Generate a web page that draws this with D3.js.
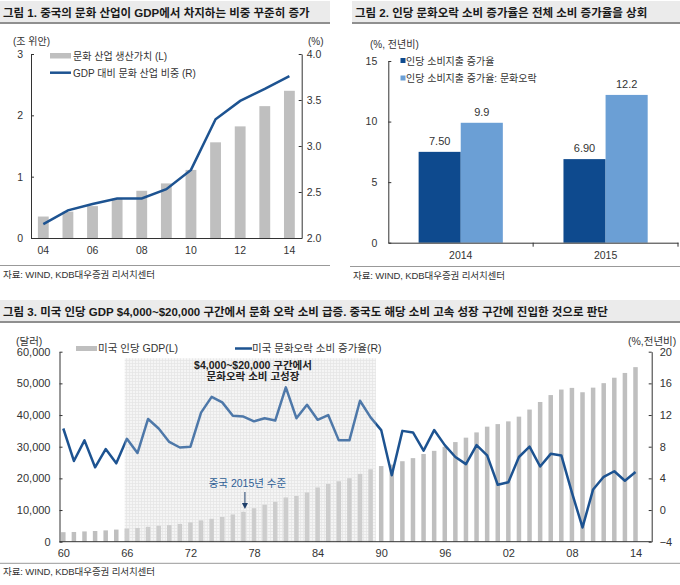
<!DOCTYPE html>
<html><head><meta charset="utf-8">
<script src="https://cdn.jsdelivr.net/npm/d3@7/dist/d3.min.js"></script>
<style>
body{margin:0;background:#fff}
svg{display:block}
text{font-family:"Liberation Sans","Noto Sans CJK KR",sans-serif;fill:#333}
</style>
</head><body>
<svg id="c" width="680" height="585"></svg>
<script>
// ---------- DATA ----------
// Chart 1
const c1Years = ["04","05","06","07","08","09","10","11","12","13","14"];
const c1TickLabels = ["04","06","08","10","12","14"];
const c1Value = [0.35,0.43,0.52,0.64,0.77,0.89,1.11,1.56,1.82,2.15,2.40];
const c1Share = [2.15,2.30,2.37,2.43,2.43,2.53,2.74,3.29,3.49,3.62,3.76];
const c1LeftTicks = [0,1,2,3];
const c1RightTicks = [2.0,2.5,3.0,3.5,4.0];
// Chart 2
const c2Cats = ["2014","2015"];
const c2Total = [7.50,6.90];
const c2Culture = [9.9,12.2];
const c2TotalLabels = ["7.50","6.90"];
const c2CultureLabels = ["9.9","12.2"];
const c2Ticks = [0,5,10,15];
// Chart 3
const c3Years = [1960,1961,1962,1963,1964,1965,1966,1967,1968,1969,1970,1971,1972,1973,1974,1975,1976,1977,1978,1979,
  1980,1981,1982,1983,1984,1985,1986,1987,1988,1989,1990,1991,1992,1993,1994,1995,1996,1997,1998,1999,
  2000,2001,2002,2003,2004,2005,2006,2007,2008,2009,2010,2011,2012,2013,2014];
const c3Gdp = [3007,3067,3244,3375,3574,3828,4146,4336,4696,5032,5234,5609,6094,6726,7226,7801,8592,9453,10565,11674,
  12575,13976,14434,15544,17121,18237,19071,20039,21417,22857,23889,24342,25419,26387,27695,28691,29968,31459,32854,34516,
  36330,37134,37998,39490,41725,44123,46302,48050,48570,47195,48651,50066,51784,53291,55124];
const c3Growth = [10.3,6.2,8.8,5.4,7.7,5.9,9.0,7.2,11.5,10.3,8.6,7.9,8.0,12.3,14.3,13.6,11.9,11.8,11.2,11.6,
  11.3,15.5,11.6,13.3,11.4,12.0,8.8,8.8,13.8,11.7,10.1,4.4,10.0,9.8,7.5,10.1,8.2,6.7,5.8,8.2,
  6.9,3.2,3.5,6.7,8.0,5.5,7.1,6.9,2.2,-2.2,2.6,4.2,4.9,3.7,4.8];
const c3TickYears = [1960,1966,1972,1978,1984,1990,1996,2002,2008,2014];
const c3LeftTicks = [0,10000,20000,30000,40000,50000,60000];
const c3RightTicks = [-4,0,4,8,12,16,20];
const c3Shade = [1965.8,1989.5];
const c3Mark = 1977;

// ---------- STYLE ----------
const GRAY = "#bfbfbf", LINE = "#1d5391", DARK = "#0e4a8e", LIGHT = "#6b9fd5";
const svg = d3.select("#c");

function titleBar(x0, x1, y, txt){
  svg.append("rect").attr("x",x0).attr("y",y).attr("width",x1-x0).attr("height",21).attr("fill","#ebebeb");
  svg.append("line").attr("x1",x0).attr("x2",x1).attr("y1",y+22).attr("y2",y+22).attr("stroke","#8f8f8f").attr("stroke-width",2);
  svg.append("text").attr("x",x0+3).attr("y",y+16).attr("font-size",11.5).attr("font-weight","bold").style("fill","#1a1a1a").attr("letter-spacing",0).text(txt);
}
function source(x0, x1, y){
  svg.append("line").attr("x1",x0).attr("x2",x1).attr("y1",y).attr("y2",y).attr("stroke","#999").attr("stroke-width",1);
  svg.append("text").attr("x",x0+3).attr("y",y+12).attr("font-size",9.5).attr("letter-spacing",-0.1).style("fill","#333").text("자료: WIND, KDB대우증권 리서치센터");
}
function styleAxis(g, fs){
  g.select(".domain").attr("stroke","#333");
  g.selectAll(".tick line").attr("stroke","#333");
  g.selectAll(".tick text").attr("font-size",fs).style("fill","#333").attr("font-family",null);
  g.attr("font-family",null);
}

// ---------- CHART 1 ----------
titleBar(0, 330, 1, "그림 1. 중국의 문화 산업이 GDP에서 차지하는 비중 꾸준히 증가");
{
  const L=31, R=301.7, T=54, B=238;
  const x = d3.scaleBand().domain(c1Years).range([L,R]).paddingInner(0.56).paddingOuter(0.28);
  const yl = d3.scaleLinear().domain([0,3]).range([B,T]);
  const yr = d3.scaleLinear().domain([2,4]).range([B,T]);
  svg.append("g").selectAll("rect").data(c1Value).join("rect")
    .attr("x",(d,i)=>x(c1Years[i])).attr("width",x.bandwidth())
    .attr("y",d=>yl(d)).attr("height",d=>B-yl(d)).attr("fill",GRAY);
  svg.append("path").datum(c1Share).attr("fill","none").attr("stroke",LINE).attr("stroke-width",2.5)
    .attr("d",d3.line().x((d,i)=>x(c1Years[i])+x.bandwidth()/2).y(d=>yr(d)));
  const gl = svg.append("g").attr("transform",`translate(${L},0)`)
    .call(d3.axisLeft(yl).tickValues(c1LeftTicks).tickSizeInner(-3).tickSizeOuter(0).tickPadding(8).tickFormat(d3.format("d")));
  styleAxis(gl,10.5);
  const gr = svg.append("g").attr("transform",`translate(${R},0)`)
    .call(d3.axisRight(yr).tickValues(c1RightTicks).tickSizeInner(-3).tickSizeOuter(0).tickPadding(5).tickFormat(d3.format(".1f")));
  styleAxis(gr,10.5);
  const gb = svg.append("g").attr("transform",`translate(0,${B})`)
    .call(d3.axisBottom(x).tickValues(c1TickLabels).tickSize(0).tickPadding(9));
  styleAxis(gb,10.5);
  svg.append("text").attr("x",13).attr("y",45).attr("font-size",10).text("(조 위안)");
  svg.append("text").attr("x",308).attr("y",45).attr("font-size",10).text("(%)");
  svg.append("rect").attr("x",50).attr("y",53).attr("width",21).attr("height",5.5).attr("fill",GRAY);
  svg.append("text").attr("x",73).attr("y",59.5).attr("font-size",10).text("문화 산업 생산가치 (L)");
  svg.append("line").attr("x1",50).attr("x2",71).attr("y1",72.7).attr("y2",72.7).attr("stroke",LINE).attr("stroke-width",2.5);
  svg.append("text").attr("x",73).attr("y",76.5).attr("font-size",10).text("GDP 대비 문화 산업 비중 (R)");
}
source(0, 330, 265.5);

// ---------- CHART 2 ----------
titleBar(352, 680, 1, "그림 2. 인당 문화오락 소비 증가율은 전체 소비 증가율을 상회");
{
  const L=388.3, R=678, T=61, B=242.7;
  const x = d3.scaleBand().domain(c2Cats).range([L,R]);
  const inner = d3.scaleBand().domain(["t","c"]).range([0,x.bandwidth()]).paddingOuter(0.72).paddingInner(0);
  const y = d3.scaleLinear().domain([0,15]).range([B,T]);
  const g = svg.append("g");
  c2Cats.forEach((c,i)=>{
    g.append("rect").attr("x",x(c)+inner("t")).attr("width",inner.bandwidth()).attr("y",y(c2Total[i])).attr("height",B-y(c2Total[i])).attr("fill",DARK);
    g.append("rect").attr("x",x(c)+inner("c")).attr("width",inner.bandwidth()).attr("y",y(c2Culture[i])).attr("height",B-y(c2Culture[i])).attr("fill",LIGHT);
    g.append("text").attr("x",x(c)+inner("t")+inner.bandwidth()/2).attr("y",y(c2Total[i])-7).attr("text-anchor","middle").attr("font-size",11).text(c2TotalLabels[i]);
    g.append("text").attr("x",x(c)+inner("c")+inner.bandwidth()/2).attr("y",y(c2Culture[i])-7).attr("text-anchor","middle").attr("font-size",11).text(c2CultureLabels[i]);
  });
  const gl = svg.append("g").attr("transform",`translate(${L},0)`)
    .call(d3.axisLeft(y).tickValues(c2Ticks).tickSizeInner(-3).tickSizeOuter(0).tickPadding(11));
  styleAxis(gl,10.5);
  const gb = svg.append("g").attr("transform",`translate(0,${B})`)
    .call(d3.axisBottom(x).tickSize(0).tickPadding(9));
  styleAxis(gb,10.5);
  gb.append("line").attr("x1",x("2015")).attr("x2",x("2015")).attr("y1",0).attr("y2",4).attr("stroke","#333");
  gb.append("line").attr("x1",R).attr("x2",R).attr("y1",0).attr("y2",4).attr("stroke","#333");
  svg.append("text").attr("x",370).attr("y",48).attr("font-size",10).text("(%, 전년비)");
  svg.append("rect").attr("x",400.5).attr("y",58).attr("width",5).attr("height",5).attr("fill",DARK);
  svg.append("text").attr("x",406).attr("y",64.5).attr("font-size",10).text("인당 소비지출 증가율");
  svg.append("rect").attr("x",400.5).attr("y",75.5).attr("width",5).attr("height",5).attr("fill",LIGHT);
  svg.append("text").attr("x",406).attr("y",82).attr("font-size",10).text("인당 소비지출 증가율: 문화오락");
}
source(350, 680, 266.5);

// ---------- CHART 3 ----------
titleBar(0, 680, 300, "그림 3. 미국 인당 GDP $4,000~$20,000 구간에서 문화 오락 소비 급증. 중국도 해당 소비 고속 성장 구간에 진입한 것으로 판단");
{
  const L=59.5, R=651.7, T=351.7, B=541.7;
  const x = d3.scaleLinear().domain([1960,2014]).range([63.3,635.5]);
  const yl = d3.scaleLinear().domain([0,60000]).range([B,T]);
  const yr = d3.scaleLinear().domain([-4,20]).range([B,T]);
  const defs = svg.append("defs");
  const pat = defs.append("pattern").attr("id","grid").attr("patternUnits","userSpaceOnUse").attr("width",3).attr("height",3);
  pat.append("rect").attr("width",3).attr("height",3).attr("fill","#f3f3f3");
  pat.append("path").attr("d","M0,0.5H3M0.5,0V3").attr("stroke","#dcdcdc").attr("stroke-width",0.7);
  const sx0 = x(c3Shade[0]), sx1 = x(c3Shade[1]), sy0 = 358.3;
  svg.append("rect").attr("x",sx0).attr("y",sy0).attr("width",sx1-sx0).attr("height",B-sy0).attr("fill","url(#grid)");
  svg.append("g").selectAll("rect").data(c3Gdp).join("rect")
    .attr("x",(d,i)=>x(c3Years[i])-2.25).attr("width",4.5)
    .attr("y",d=>yl(d)).attr("height",d=>B-yl(d)).attr("fill",GRAY);
  svg.append("path").datum(c3Growth).attr("fill","none").attr("stroke",LINE).attr("stroke-width",2.5).attr("stroke-linejoin","round")
    .attr("d",d3.line().x((d,i)=>x(c3Years[i])).y(d=>yr(d)));
  svg.append("rect").attr("x",sx0).attr("y",sy0).attr("width",sx1-sx0).attr("height",B-sy0-1).attr("fill","#fff").attr("fill-opacity",0.22);
  const gl = svg.append("g").attr("transform",`translate(${L},0)`)
    .call(d3.axisLeft(yl).tickValues(c3LeftTicks).tickSizeInner(-3).tickSizeOuter(0).tickPadding(9).tickFormat(d3.format(",")));
  styleAxis(gl,11);
  const gr = svg.append("g").attr("transform",`translate(${R},0)`)
    .call(d3.axisRight(yr).tickValues(c3RightTicks).tickSizeInner(-3).tickSizeOuter(0).tickPadding(8));
  styleAxis(gr,11);
  const gb = svg.append("g").attr("transform",`translate(0,${B})`)
    .call(d3.axisBottom(x).tickValues(c3TickYears).tickSize(0).tickPadding(8).tickFormat(d=>String(d).slice(2)));
  gb.select(".domain").attr("d",`M${L},0H${R}`);
  styleAxis(gb,11);
  svg.append("text").attr("x",16).attr("y",344.5).attr("font-size",10.5).text("(달러)");
  svg.append("text").attr("x",628).attr("y",344.5).attr("font-size",10.5).text("(%,전년비)");
  svg.append("rect").attr("x",76).attr("y",346).attr("width",21).attr("height",5).attr("fill",GRAY);
  svg.append("text").attr("x",98).attr("y",352).attr("font-size",10.5).text("미국 인당 GDP(L)");
  svg.append("line").attr("x1",235).attr("x2",252).attr("y1",348.5).attr("y2",348.5).attr("stroke",LINE).attr("stroke-width",2.5);
  svg.append("text").attr("x",252).attr("y",352).attr("font-size",10.5).text("미국 문화오락 소비 증가율(R)");
  svg.append("text").attr("x",253).attr("y",369).attr("text-anchor","middle").attr("font-size",10.5).attr("font-weight","bold").style("fill","#222").text("$4,000~$20,000 구간에서");
  svg.append("text").attr("x",253).attr("y",380).attr("text-anchor","middle").attr("font-size",10.5).attr("font-weight","bold").style("fill","#222").text("문화오락 소비 고성장");
  const mx = x(c3Mark);
  svg.append("text").attr("x",mx+4).attr("y",487).attr("text-anchor","middle").attr("font-size",10.5).style("fill","#2f5f96").text("중국 2015년 수준");
  svg.append("line").attr("x1",mx+1.5).attr("x2",mx+1.5).attr("y1",492).attr("y2",507).attr("stroke","#1f3f6a").attr("stroke-width",1);
  svg.append("path").attr("d",`M${mx-1.5},503L${mx+1.5},509L${mx+4.5},503Z`).attr("fill","#1f3f6a");
}
source(0, 680, 563.3);
</script>
</body></html>
